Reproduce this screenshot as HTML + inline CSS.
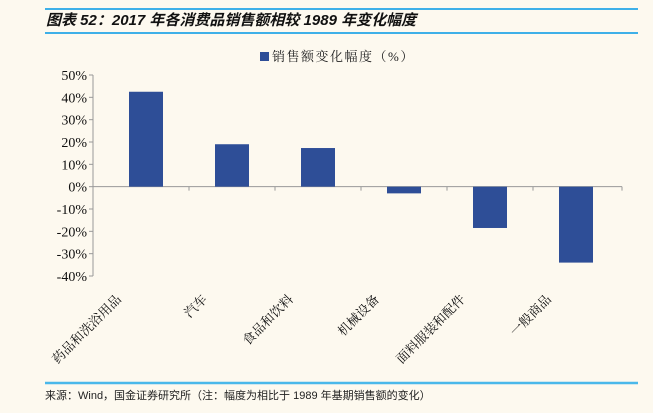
<!DOCTYPE html>
<html><head><meta charset="utf-8"><style>
body{margin:0;background:#fdf9ef;}
svg{display:block;font-family:"Liberation Serif","Noto Serif CJK SC",serif;}
</style></head><body>
<svg width="653" height="413" viewBox="0 0 653 413">
<rect width="653" height="413" fill="#fdf9ef"/>
<line x1="45" y1="9" x2="638" y2="9" stroke="#3eb0e8" stroke-width="2"/>
<text x="46" y="25" font-size="15" font-weight="bold" font-style="italic" font-family="Liberation Sans,Noto Sans CJK SC,sans-serif" fill="#111">图表 52：2017 年各消费品销售额相较 1989 年变化幅度</text>
<line x1="45" y1="33" x2="638" y2="33" stroke="#3eb0e8" stroke-width="2"/>
<rect x="260" y="52" width="9" height="9" fill="#2e4e97"/>
<text x="272" y="61" font-size="13" letter-spacing="1.5" fill="#222">销售额变化幅度（%）</text>
<g id="plot"></g>
<line x1="45" y1="383" x2="638" y2="383" stroke="#4ab8ea" stroke-width="2.5"/>
<text x="45" y="399" font-size="11" font-family="Liberation Sans,Noto Sans CJK SC,sans-serif" fill="#222">来源：Wind，国金证券研究所（注：幅度为相比于 1989 年基期销售额的变化）</text>
</svg>
<script>
const categories=["药品和洗浴用品","汽车","食品和饮料","机械设备","面料服装和配件","一般商品"];
const values=[42.5,19,17.3,-3,-18.5,-34];
const ticks=[50,40,30,20,10,0,-10,-20,-30,-40];
const NS="http://www.w3.org/2000/svg";
const g=document.getElementById('plot');
const x0=93,x1=622,yTop=75,yBot=276,vMax=50,vMin=-40;
const y=v=>yTop+(vMax-v)*(yBot-yTop)/(vMax-vMin);
const first=146,step=86;
const cx=i=>first+step*i;
function el(t,a){const e=document.createElementNS(NS,t);for(const k in a)e.setAttribute(k,a[k]);g.appendChild(e);return e;}
const ax=el('line',{x1:x0,y1:yTop,x2:x0,y2:yBot,stroke:'#999'});


ticks.forEach(t=>{
  const l=el('line',{x1:x0-4,y1:y(t),x2:x0,y2:y(t),stroke:'#999'});
  
  
  const tx=el('text',{x:x0-6,y:y(t)+5,'font-size':14,'text-anchor':'end',fill:'#111'});
  tx.textContent=t+'%';
  
  
});
const xa=el('line',{x1:x0,y1:y(0),x2:x1,y2:y(0),stroke:'#999'});


for(let i=0;i<=categories.length;i++){
  const tx=i===0?x0:(i===categories.length?x1:cx(i)-step/2);
  const l=el('line',{x1:tx,y1:y(0),x2:tx,y2:y(0)+4,stroke:'#999'});
  
  
}
values.forEach((v,i)=>{
  const r=el('rect',{x:cx(i)-17,y:Math.min(y(v),y(0)),width:34,height:Math.abs(y(v)-y(0)),fill:'#2e4e97'});
  
  
});
categories.forEach((c,i)=>{
  const lx=cx(i)-24,ly=300;
  const t=el('text',{x:lx,y:ly,'font-size':13,'text-anchor':'end',fill:'#111',transform:`rotate(-45 ${lx} ${ly})`});
  t.textContent=c;
  
  
});
</script>
</body></html>
